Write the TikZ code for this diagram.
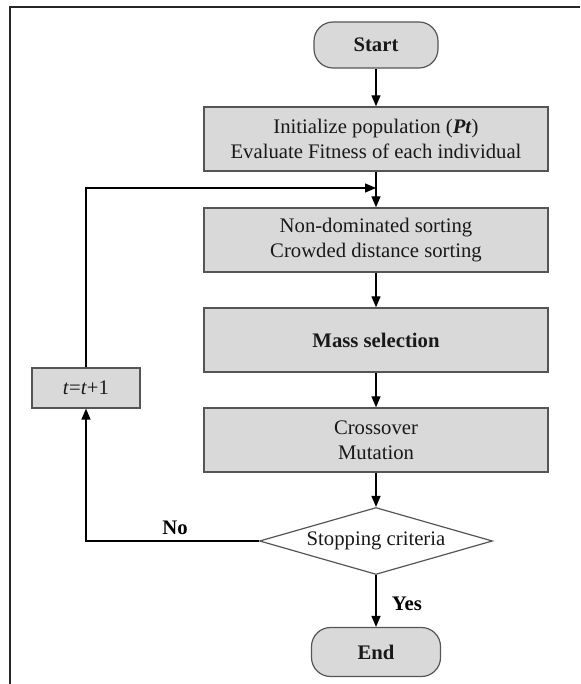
\documentclass[tikz,border=0pt]{standalone}
\usepackage{fontspec}
\setmainfont{Liberation Serif}
\usetikzlibrary{arrows.meta,shapes.geometric}
\definecolor{boxfill}{HTML}{D9D9D9}
\definecolor{boxline}{HTML}{555555}
\tikzset{
  txt/.style={font=\fontsize{20.7}{24.5}\selectfont, text=black!90},
  procbox/.style={txt, draw=boxline, fill=boxfill, line width=1.4pt, align=center,
    minimum width=344pt, minimum height=64pt, inner sep=0pt},
  terminal/.style={txt, draw=boxline, fill=boxfill, line width=1.2pt, rounded corners=19pt,
    inner sep=0pt, font=\fontsize{20.7}{24.5}\selectfont\bfseries},
  decision/.style={txt, draw=boxline, fill=white, line width=1.2pt, shape=diamond, aspect=3.48,
    minimum width=233pt, minimum height=67pt, inner sep=0pt},
  arr/.style={draw=black, line width=1.3pt, -{Triangle[length=11pt,width=9pt]}},
  lbl/.style={font=\fontsize{20.7}{24.5}\selectfont\bfseries, text=black}
}
\begin{document}
\begin{tikzpicture}[x=1pt,y=-1pt]
\useasboundingbox (0,0) rectangle (580,684);
\draw[line width=1.8pt, draw=black!85] (10,684) -- (10,7) -- (580,7);

\node[terminal, minimum width=124pt, minimum height=46pt] (start) at (376,45) {Start};
\node[procbox] (b1) at (376,139) {Initialize population (\textbf{\textit{Pt}})\\Evaluate Fitness of each individual};
\node[procbox] (b2) at (376,240) {Non-dominated sorting\\Crowded distance sorting};
\node[procbox, font=\fontsize{20.7}{24.5}\selectfont\bfseries] (b3) at (376,340) {Mass selection};
\node[procbox] (b4) at (376,440) {Crossover\\Mutation};
\node[decision] (dec) at (376,541) {Stopping criteria};
\node[terminal, minimum width=129pt, minimum height=49pt] (end) at (376,652) {End};
\node[txt, draw=boxline, fill=boxfill, line width=1.2pt, minimum width=108pt, minimum height=40pt, inner sep=0pt] (inc) at (86,388) {\textit{t}=\textit{t}+1};
\coordinate (join) at (376,188);

\draw[arr] (start.south) -- (b1.north);
\draw[arr] (b1.south) -- (b2.north);
\draw[arr] (b2.south) -- (b3.north);
\draw[arr] (b3.south) -- (b4.north);
\draw[arr] (b4.south) -- (dec.north);
\draw[arr] (dec.south) -- node[lbl, right, xshift=12pt, yshift=-3pt] (yes) {Yes} (end.north);
\draw[arr] (dec.west) -| (inc.south);
\node[lbl] (no) at (175,528) {No};
\draw[arr] (inc.north) |- (join);
\end{tikzpicture}
\end{document}
